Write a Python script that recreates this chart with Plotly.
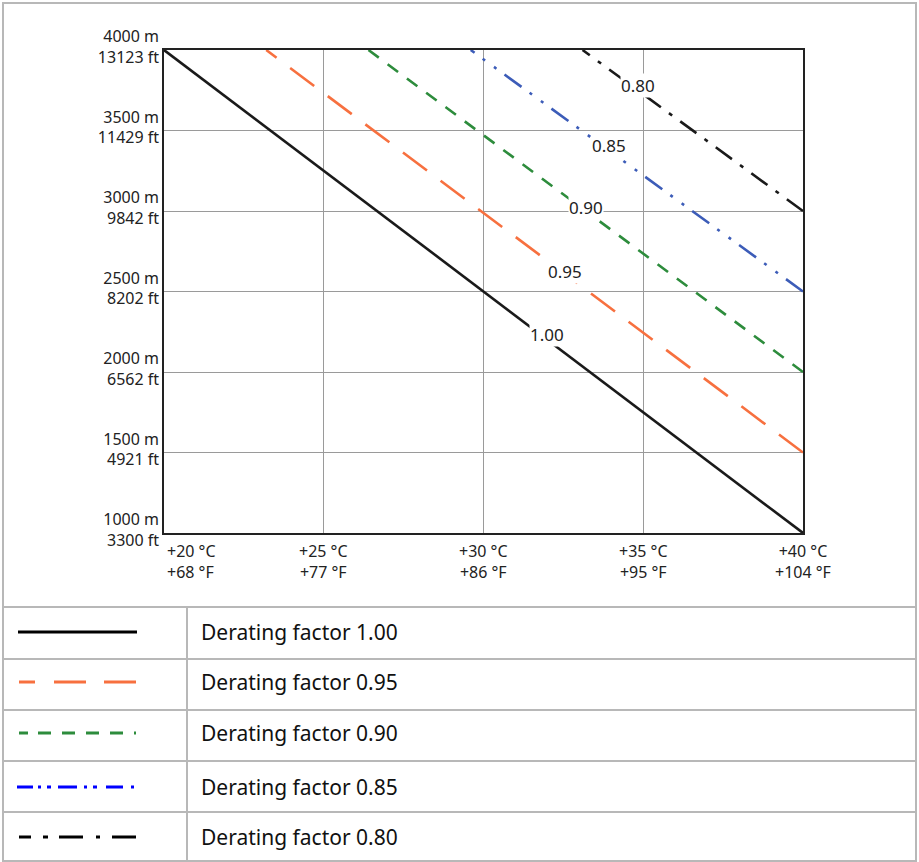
import plotly.graph_objects as go

W, H = 919, 862

# ---- data ----
factors = ["1.00", "0.95", "0.90", "0.85", "0.80"]
temp_start = [20.0, 23.2, 26.4, 29.6, 33.1]      # °C where line leaves the 4000 m edge
alt_start = [4000, 4000, 4000, 4000, 4000]
temp_end = [40.0, 40.0, 40.0, 40.0, 40.0]
alt_end = [1000, 1500, 2000, 2500, 3000]
label_temp = [32.0, 32.55, 33.2, 33.93, 34.84]
label_alt = [2230, 2627, 3019, 3404, 3782]

y_tick_vals = [1000, 1500, 2000, 2500, 3000, 3500, 4000]
y_tick_text = ["1000 m<br>3300 ft", "1500 m<br>4921 ft", "2000 m<br>6562 ft",
               "2500 m<br>8202 ft", "3000 m<br>9842 ft", "3500 m<br>11429 ft",
               "4000 m<br>13123 ft"]
x_tick_vals = [20, 25, 30, 35, 40]
x_tick_text = ["+20 °C<br>+68 °F", "+25 °C<br>+77 °F", "+30 °C<br>+86 °F",
               "+35 °C<br>+95 °F", "+40 °C<br>+104 °F"]
legend_text = ["Derating factor 1.00", "Derating factor 0.95", "Derating factor 0.90",
               "Derating factor 0.85", "Derating factor 0.80"]

# ---- styles ----
FONT = "Noto Sans"
line_colors = ["#1a1a1a", "#f7703f", "#2d8c3c", "#3c5cb8", "#1a1a1a"]
legend_colors = ["#000000", "#f7703f", "#2d8c3c", "#0000ff", "#000000"]
line_dash = ["solid", "30px,17px", "13px,11px", "21px,10px,3px,11px,3px,10px", "20px,10px,4px,10px"]
legend_dash = [
    "solid",
    "16px,19px,32px,18px,32px,60px",
    "9px,10px,13px,11px,13px,11px,13px,11px,13px,11px,2px,60px",
    "16px,5px,3px,6px,4px,7px,19px,7px,3px,6px,4px,9px,17px,8px,3px,60px",
    "12px,12px,5px,11px,24px,13px,4px,12px,24px,60px",
]

def px_x(p):
    return p / W

def px_y(p):
    return 1 - p / H

fig = go.Figure()

for i in range(len(factors)):
    # drawn from the 40 °C end so the dash pattern starts at the right edge
    fig.add_trace(go.Scatter(
        x=[temp_end[i], temp_start[i]], y=[alt_end[i], alt_start[i]],
        mode="lines", line=dict(color=line_colors[i], width=2.6, dash=line_dash[i]),
        showlegend=False, hoverinfo="skip"))

annotations = []
for i in range(len(factors)):
    annotations.append(dict(x=label_temp[i], y=label_alt[i], xref="x", yref="y",
                            text=factors[i], showarrow=False, bgcolor="white",
                            borderpad=0, font=dict(family=FONT, size=17, color="#222")))

for i, (v, t) in enumerate(zip(x_tick_vals, x_tick_text)):
    annotations.append(dict(x=v, y=px_y(538), xref="x", yref="paper", text=t,
                            showarrow=False, xanchor="left" if i == 0 else "center",
                            xshift=1 if i == 0 else 0,
                            yanchor="top", align="left" if i == 0 else "center",
                            font=dict(family=FONT, size=16, color="#222")))

shapes = []
border = "#b8b8b8"
# outer frame
shapes.append(dict(type="rect", xref="paper", yref="paper", x0=px_x(3), x1=px_x(916),
                   y0=px_y(861), y1=px_y(3), line=dict(color=border, width=2)))
row_lines = [607, 659, 710, 761, 812]
for r in row_lines:
    shapes.append(dict(type="line", xref="paper", yref="paper", x0=px_x(3), x1=px_x(916),
                       y0=px_y(r), y1=px_y(r), line=dict(color=border, width=2)))
shapes.append(dict(type="line", xref="paper", yref="paper", x0=px_x(187), x1=px_x(187),
                   y0=px_y(861), y1=px_y(607), line=dict(color=border, width=2)))

sample_y = [632, 682, 733, 787, 837]
sample_x0 = [18, 19, 19, 17, 19]
sample_x1 = [137, 136, 136, 134, 136]
for i in range(len(factors)):
    shapes.append(dict(type="line", xref="paper", yref="paper",
                       x0=px_x(sample_x0[i]), x1=px_x(sample_x1[i]),
                       y0=px_y(sample_y[i]), y1=px_y(sample_y[i]),
                       line=dict(color=legend_colors[i], width=3, dash=legend_dash[i])))
    annotations.append(dict(x=px_x(199), y=px_y(sample_y[i]), xref="paper", yref="paper",
                            text=legend_text[i], showarrow=False, xanchor="left",
                            yanchor="middle", font=dict(family=FONT, size=21, color="#111")))

fig.update_layout(
    width=W, height=H, margin=dict(l=0, r=0, t=0, b=0, pad=0, autoexpand=False),
    autosize=False,
    paper_bgcolor="white", plot_bgcolor="white",
    shapes=shapes, annotations=annotations,
    xaxis=dict(domain=[px_x(164), px_x(803)], range=[20, 40], tickvals=x_tick_vals,
               showticklabels=False, showgrid=True, gridcolor="#9a9a9a", gridwidth=1,
               showline=True, linecolor="#222", linewidth=1.5, mirror=True,
               zeroline=False, fixedrange=True, automargin=False),
    yaxis=dict(domain=[px_y(533), px_y(50)], range=[1000, 4000], tickvals=y_tick_vals,
               ticktext=y_tick_text, showgrid=True, gridcolor="#9a9a9a", gridwidth=1,
               showline=True, linecolor="#222", linewidth=1.5, mirror=True,
               zeroline=False, ticks="", ticklabelstandoff=0, ticklabelshift=-3,
               automargin=False,
               tickfont=dict(family=FONT, size=16, color="#222"), fixedrange=True),
    font=dict(family=FONT, color="#222"),
)

fig.write_html("out.html", config={"responsive": False, "displayModeBar": False},
               post_script="document.body.style.margin='0';document.body.style.overflow='hidden';")
